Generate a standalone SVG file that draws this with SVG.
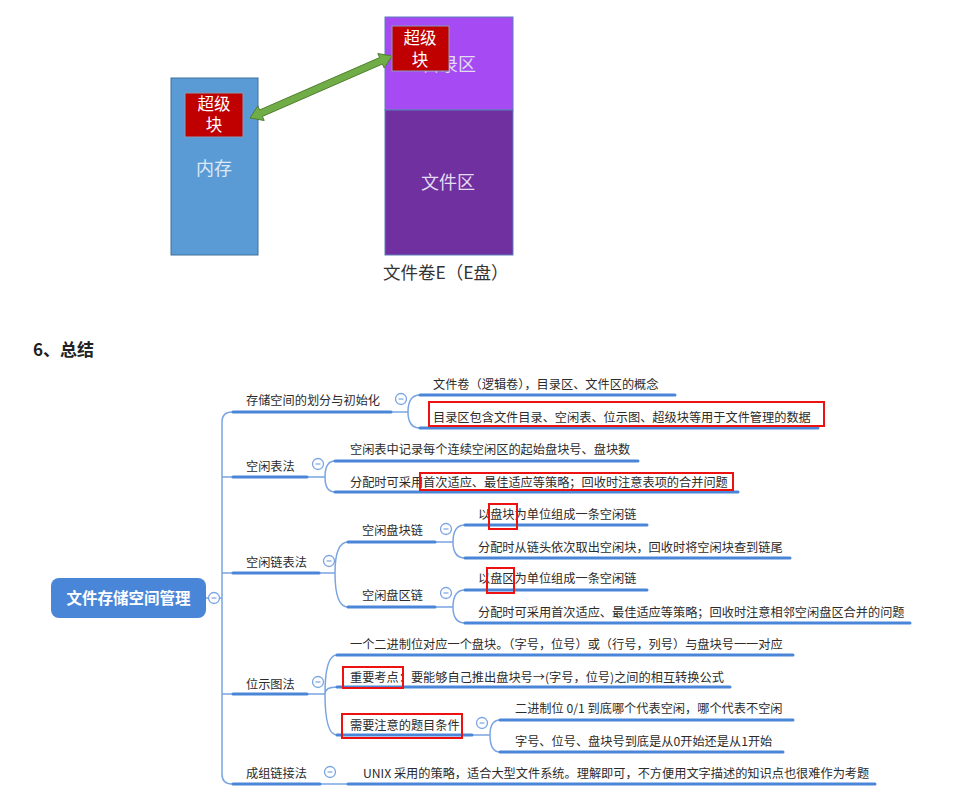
<svg xmlns="http://www.w3.org/2000/svg" width="978" height="800" viewBox="0 0 978 800">
<style>
text{font-family:"Noto Sans CJK SC","Noto Sans",sans-serif}
.blk{font-size:16.5px;fill:#ffffff;text-anchor:middle}
.reg{font-size:18px;fill:#e2dcf2;text-anchor:middle}
.sb{fill:#c00000;stroke:#8a9bb8;stroke-width:1}
.lbl{font-size:12.2px;fill:#2b2b2b}
.ul{stroke:#4a86d8;stroke-width:3;fill:none;stroke-linecap:round}
.cn{stroke:#7aa5e2;stroke-width:1.5;fill:none}
.red{fill:none;stroke:#ee1111;stroke-width:2}
.tg circle{fill:#ffffff;stroke:#7aa5e2;stroke-width:1.3}
.tg line{stroke:#7aa5e2;stroke-width:1.2}
</style>
<rect width="978" height="800" fill="#ffffff"/>

<g id="memory">
<rect x="171" y="78" width="87" height="177" fill="#5b9bd5" stroke="#41719c" stroke-width="1"/>
<text class="reg" x="214" y="175" style="fill:#dce8f6">内存</text>
</g>
<g id="disk">
<rect x="385" y="17" width="128" height="93" fill="#a64bf4" stroke="#5b7fb9" stroke-width="1"/>
<rect x="385" y="110" width="128" height="145" fill="#7030a0" stroke="#5b7fb9" stroke-width="1"/>
<text class="reg" x="449" y="71">目录区</text>
<text class="reg" x="448" y="189">文件区</text>
<text x="383" y="279" font-size="17.5" fill="#333333">文件卷E（E盘）</text>
</g>
<g id="arrow">
<polygon points="250,118 257.8,105.9 259.6,109.98 379.6,57.58 377.8,53.5 392,56 384.2,68.1 382.4,64.02 262.4,116.42 264.2,120.5" fill="#70ad47" stroke="#4f7f30" stroke-width="1"/>
</g>
<g id="superblock-mem">
<rect class="sb" x="185" y="93" width="58" height="44"/>
<text class="blk" x="214" y="110">超级</text>
<text class="blk" x="214" y="131">块</text>
</g>
<g id="superblock-disk">
<rect class="sb" x="392" y="26" width="57" height="45"/>
<text class="blk" x="420" y="44">超级</text>
<text class="blk" x="420" y="66">块</text>
</g>

<text x="33" y="356" font-size="17" font-weight="bold" fill="#222222">6、总结</text>

<g id="connectors">
<path class="cn" d="M206,598 L222,598 M232,412 Q222,412 222,422 L222,774 Q222,784 232,784 M222,477 L233,477 M222,573 L233,573 M222,694 L233,694"/>
<path class="cn" d="M391,412 L408,412 M408,412 Q408,395 420,395 M408,412 Q408,428 420,428"/>
<path class="cn" d="M307,477 L325,477 M325,477 Q325,461 335,461 M325,477 Q325,492 335,492"/>
<path class="cn" d="M319,573 L335,573 M335,573 Q335,542 348,542 M335,573 Q335,607 348,607"/>
<path class="cn" d="M435,542 L453,542 M453,542 Q453,525 465,525 M453,542 Q453,558 465,558"/>
<path class="cn" d="M435,607 L453,607 M453,607 Q453,590 465,590 M453,607 Q453,623 465,623"/>
<path class="cn" d="M307,694 L325,694 M325,694 Q325,655 337,655 M325,694 Q325,687 337,687 M325,694 Q325,735 337,735"/>
<path class="cn" d="M472,735 L490,735 M490,735 Q490,720 500,720 M490,735 Q490,752 500,752"/>
<path class="cn" d="M320,784 L348,784"/>
<path class="ul" d="M233,412 H391 M420,395 H675 M420,428 H818 M233,477 H307 M335,461 H638 M335,492 H738 M233,573 H319 M348,542 H435 M348,607 H435 M465,525 H647 M465,558 H790 M465,590 H647 M465,623 H910 M233,694 H307 M337,655 H793 M337,687 H730 M337,735 H472 M500,720 H793 M500,752 H783 M233,784 H320 M348,784 H875"/>
</g>

<g id="root">
<rect x="51" y="578" width="155" height="40" rx="8" fill="#4a86d8"/>
<text x="128.5" y="603.5" font-size="15.5" font-weight="bold" fill="#ffffff" text-anchor="middle">文件存储空间管理</text>
</g>

<g id="toggles" class="tg">
<g><circle cx="214" cy="598" r="5.5"/><line x1="211.5" y1="598" x2="216.5" y2="598"/></g>
<g><circle cx="401" cy="399" r="5.5"/><line x1="398.5" y1="399" x2="403.5" y2="399"/></g>
<g><circle cx="318" cy="464" r="5.5"/><line x1="315.5" y1="464" x2="320.5" y2="464"/></g>
<g><circle cx="329" cy="561" r="5.5"/><line x1="326.5" y1="561" x2="331.5" y2="561"/></g>
<g><circle cx="446" cy="529" r="5.5"/><line x1="443.5" y1="529" x2="448.5" y2="529"/></g>
<g><circle cx="446" cy="593" r="5.5"/><line x1="443.5" y1="593" x2="448.5" y2="593"/></g>
<g><circle cx="318" cy="682" r="5.5"/><line x1="315.5" y1="682" x2="320.5" y2="682"/></g>
<g><circle cx="482" cy="723" r="5.5"/><line x1="479.5" y1="723" x2="484.5" y2="723"/></g>
<g><circle cx="330" cy="772" r="5.5"/><line x1="327.5" y1="772" x2="332.5" y2="772"/></g>
</g>

<g id="b1"><text class="lbl" x="246" y="404.5">存储空间的划分与初始化</text></g>
<g id="b1c1"><text class="lbl" x="433" y="388.5">文件卷（逻辑卷），目录区、文件区的概念</text></g>
<g id="b1c2"><text class="lbl" x="433" y="421.5">目录区包含文件目录、空闲表、位示图、超级块等用于文件管理的数据</text><rect class="red" x="429" y="402" width="395" height="24"/></g>

<g id="b2"><text class="lbl" x="246" y="470.5">空闲表法</text></g>
<g id="b2c1"><text class="lbl" x="350" y="453.5">空闲表中记录每个连续空闲区的起始盘块号、盘块数</text></g>
<g id="b2c2"><text class="lbl" x="350" y="486.5">分配时可采用首次适应、最佳适应等策略；回收时注意表项的合并问题</text><rect class="red" x="420" y="473" width="313" height="17"/></g>

<g id="b3"><text class="lbl" x="246" y="566.5">空闲链表法</text></g>
<g id="b3s1"><text class="lbl" x="362" y="534.5">空闲盘块链</text></g>
<g id="b3s2"><text class="lbl" x="362" y="599.5">空闲盘区链</text></g>
<g id="b3s1c1"><text class="lbl" x="478" y="518.5">以盘块为单位组成一条空闲链</text><rect class="red" x="489" y="504" width="28" height="25"/></g>
<g id="b3s1c2"><text class="lbl" x="478" y="551.5">分配时从链头依次取出空闲块，回收时将空闲块查到链尾</text></g>
<g id="b3s2c1"><text class="lbl" x="478" y="582.5">以盘区为单位组成一条空闲链</text><rect class="red" x="487" y="568" width="27" height="25"/></g>
<g id="b3s2c2"><text class="lbl" x="478" y="616.5">分配时可采用首次适应、最佳适应等策略；回收时注意相邻空闲盘区合并的问题</text></g>

<g id="b4"><text class="lbl" x="246" y="688.5">位示图法</text></g>
<g id="b4c1"><text class="lbl" x="350" y="648.5">一个二进制位对应一个盘块。（字号，位号）或（行号，列号）与盘块号一一对应</text></g>
<g id="b4c2"><text class="lbl" x="350" y="681.5">重要考点：要能够自己推出盘块号→(字号，位号)之间的相互转换公式</text><rect class="red" x="343" y="667" width="60" height="21"/></g>
<g id="b4c3"><text class="lbl" x="350" y="729.5">需要注意的题目条件</text><rect class="red" x="342" y="714" width="120" height="24"/></g>
<g id="b4c3a"><text class="lbl" x="515" y="712.5">二进制位 0/1 到底哪个代表空闲，哪个代表不空闲</text></g>
<g id="b4c3b"><text class="lbl" x="515" y="745.5">字号、位号、盘块号到底是从0开始还是从1开始</text></g>

<g id="b5"><text class="lbl" x="246" y="777.5">成组链接法</text></g>
<g id="b5c1"><text class="lbl" x="363" y="777.5">UNIX 采用的策略，适合大型文件系统。理解即可，不方便用文字描述的知识点也很难作为考题</text></g>
</svg>
